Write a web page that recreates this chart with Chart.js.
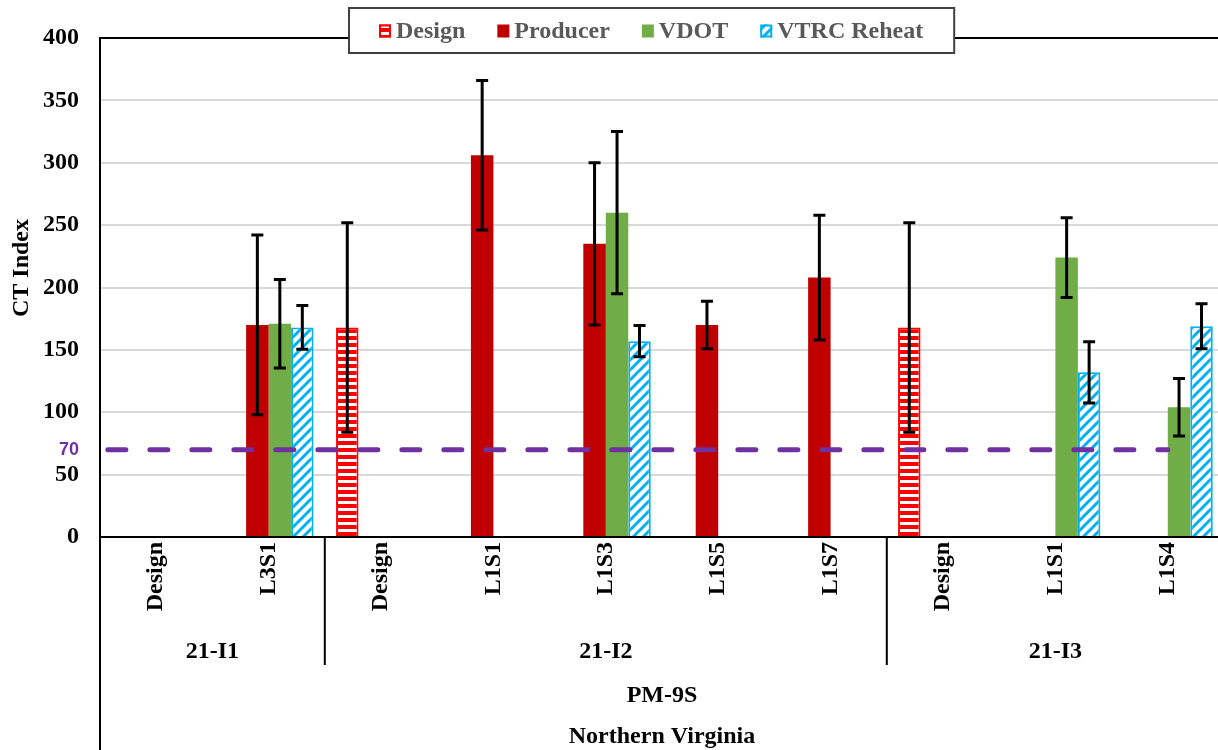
<!DOCTYPE html>
<html>
<head>
<meta charset="utf-8">
<title>CT Index</title>
<script src="https://cdn.jsdelivr.net/npm/chart.js@4.4.1/dist/chart.umd.min.js"></script>
<style>
  html, body { margin: 0; padding: 0; background: #fff; overflow: hidden; }
  #wrap { position: relative; width: 1230px; height: 750px; }
</style>
</head>
<body>
<div id="wrap"><canvas id="ctChart"></canvas></div>
<script>
// mix / sample labels along the axis
const labels = ["Design", "L3S1", "Design", "L1S1", "L1S3", "L1S5", "L1S7", "Design", "L1S1", "L1S4"];

// CT Index means and +/- error for each source
const design = [null, null, 168, null, null, null, null, 168, null, null];
const designErr = [null, null, 84, null, null, null, null, 84, null, null];
const producer = [null, 170, null, 306, 235, 170, 208, null, null, null];
const producerErr = [null, 72, null, 60, 65, 19, 50, null, null, null];
const vdot = [null, 171, null, null, 260, null, null, null, 224, 104];
const vdotErr = [null, 35.5, null, null, 65, null, null, null, 32, 23];
const vtrc = [null, 168, null, null, 157, null, null, null, 132, 169];
const vtrcErr = [null, 17.5, null, null, 12.5, null, null, null, 24.5, 18];

// second and third rows of the category axis
const groups = [
  { label: "21-I1", from: 0, to: 1 },
  { label: "21-I2", from: 2, to: 6 },
  { label: "21-I3", from: 7, to: 9 },
];
const outerRows = ["PM-9S", "Northern Virginia"];

const threshold = 70;
const yTicks = [0, 50, 100, 150, 200, 250, 300, 350, 400];

const SERIF = "'Liberation Serif', 'Times New Roman', serif";
const SANS = "'Liberation Sans', Arial, sans-serif";
const FS = 24;

function stripes() {
  const c = document.createElement("canvas");
  c.width = 8; c.height = 7;
  const g = c.getContext("2d");
  g.fillStyle = "#fff";
  g.fillRect(0, 0, 8, 7);
  g.fillStyle = "#ff0000";
  g.fillRect(0, 0, 8, 4);
  return g.createPattern(c, "repeat");
}

function diagonals() {
  const c = document.createElement("canvas");
  c.width = 10; c.height = 10;
  const g = c.getContext("2d");
  g.fillStyle = "#fff";
  g.fillRect(0, 0, 10, 10);
  g.strokeStyle = "#00b0f0";
  g.lineWidth = 3;
  g.beginPath();
  g.moveTo(-2, 12); g.lineTo(12, -2);
  g.moveTo(-2, 2); g.lineTo(2, -2);
  g.moveTo(8, 12); g.lineTo(12, 8);
  g.stroke();
  return g.createPattern(c, "repeat");
}

const errors = [designErr, producerErr, vdotErr, vtrcErr];

const overlays = {
  id: "overlays",
  afterDatasetsDraw(chart) {
    const { ctx, scales: { x, y } } = chart;
    ctx.save();
    // 70 limit line
    const ty = y.getPixelForValue(threshold);
    ctx.strokeStyle = "#7030a0";
    ctx.lineWidth = 5;
    ctx.lineCap = "round";
    ctx.setLineDash([18, 24]);
    ctx.beginPath();
    ctx.moveTo(x.getPixelForValue(-0.43), ty);
    ctx.lineTo(x.getPixelForValue(9), ty);
    ctx.stroke();
    ctx.setLineDash([]);
    ctx.lineCap = "butt";

    // error bars
    ctx.strokeStyle = "#000";
    ctx.lineWidth = 3;
    chart.data.datasets.forEach((ds, di) => {
      const meta = chart.getDatasetMeta(di);
      ds.data.forEach((v, i) => {
        const e = errors[di][i];
        if (v == null || e == null) return;
        const bx = meta.data[i].x;
        const top = y.getPixelForValue(v + e);
        const bot = y.getPixelForValue(v - e);
        ctx.beginPath();
        ctx.moveTo(bx, top); ctx.lineTo(bx, bot);
        ctx.moveTo(bx - 6, top); ctx.lineTo(bx + 6, top);
        ctx.moveTo(bx - 6, bot); ctx.lineTo(bx + 6, bot);
        ctx.stroke();
      });
    });
    ctx.restore();
  },
};

const axisRows = {
  id: "axisRows",
  afterDraw(chart) {
    const { ctx, chartArea: a, scales: { x } } = chart;
    ctx.save();
    ctx.strokeStyle = "#000";
    ctx.lineWidth = 2;
    ctx.beginPath();
    ctx.moveTo(a.left, a.bottom);
    ctx.lineTo(a.left, chart.height);
    groups.slice(1).forEach(g => {
      const px = x.getPixelForValue(g.from - 0.5);
      ctx.moveTo(px, a.bottom);
      ctx.lineTo(px, a.bottom + 128);
    });
    ctx.stroke();

    ctx.fillStyle = "#000";
    ctx.font = "bold " + FS + "px " + SERIF;
    ctx.textAlign = "center";
    ctx.textBaseline = "alphabetic";
    groups.forEach(g => {
      const cx = (x.getPixelForValue(g.from - 0.5) + x.getPixelForValue(g.to + 0.5)) / 2;
      ctx.fillText(g.label, cx, a.bottom + 121);
    });
    const mid = (a.left + a.right) / 2;
    ctx.fillText(outerRows[0], mid, a.bottom + 165);
    ctx.fillText(outerRows[1], mid, a.bottom + 206);

    // y axis title
    ctx.translate(22, 268);
    ctx.rotate(-Math.PI / 2);
    ctx.textBaseline = "middle";
    ctx.fillText("CT Index", 0, 0);
    ctx.restore();
  },
};

const boxedLegend = {
  id: "boxedLegend",
  afterDraw(chart) {
    const { ctx } = chart;
    const items = chart.data.datasets;
    ctx.save();
    ctx.font = "bold " + FS + "px " + SERIF;
    const sw = 12, gap = 5, itemGap = 32, padL = 30, padR = 31;
    const widths = items.map(d => ctx.measureText(d.label).width);
    const total = padL + padR + widths.reduce((s, w) => s + w + sw + gap, 0) + itemGap * (items.length - 1);
    const left = Math.round(652 - total / 2);
    const top = 8, h = 45, cy = top + h / 2;
    ctx.fillStyle = "#fff";
    ctx.fillRect(left, top, total, h);
    ctx.strokeStyle = "#404040";
    ctx.lineWidth = 2;
    ctx.strokeRect(left, top, total, h);

    let cx = left + padL;
    items.forEach((d, i) => {
      ctx.fillStyle = d.backgroundColor;
      ctx.fillRect(cx, cy - 6, sw, 13);
      if (d.borderWidth) {
        ctx.strokeStyle = d.borderColor;
        ctx.lineWidth = 2;
        ctx.strokeRect(cx + 1, cy - 5, sw - 2, 11);
      }
      ctx.fillStyle = "#595959";
      ctx.textAlign = "left";
      ctx.textBaseline = "middle";
      ctx.fillText(d.label, cx + sw + gap, cy + 1);
      cx += sw + gap + widths[i] + itemGap;
    });
    ctx.restore();
  },
};

new Chart(document.getElementById("ctChart"), {
  type: "bar",
  data: {
    labels: labels,
    datasets: [
      { label: "Design", data: design, backgroundColor: stripes(), borderColor: "#ff0000", borderWidth: 2 },
      { label: "Producer", data: producer, backgroundColor: "#c00000", borderWidth: 0 },
      { label: "VDOT", data: vdot, backgroundColor: "#70ad47", borderWidth: 0 },
      { label: "VTRC Reheat", data: vtrc, backgroundColor: diagonals(), borderColor: "#00b0f0", borderWidth: 2 },
    ],
  },
  options: {
    responsive: true,
    maintainAspectRatio: false,
    animation: false,
    layout: { padding: { top: 38, right: 6, left: 0, bottom: 0 } },
    datasets: { bar: { categoryPercentage: 0.8, barPercentage: 1.0 } },
    plugins: {
      legend: { display: false },
      tooltip: { enabled: false },
    },
    scales: {
      x: {
        afterFit: (s) => { s.height = 213; },
        grid: { display: false },
        border: { display: true, color: "#000", width: 2 },
        ticks: {
          autoSkip: false,
          minRotation: 90,
          maxRotation: 90,
          padding: -3,
          color: "#000",
          font: { family: SERIF, size: FS, weight: "bold" },
        },
      },
      y: {
        min: 0,
        max: 400,
        afterFit: (s) => { s.width = 100; },
        afterBuildTicks: (s) => {
          s.ticks = yTicks.concat([threshold]).sort((a, b) => a - b).map(v => ({ value: v }));
        },
        border: { color: "#000", width: 2 },
        grid: {
          drawTicks: false,
          lineWidth: 2,
          color: (c) => {
            const v = c.tick ? c.tick.value : null;
            if (v === 400) return "#000";
            if (v === 0 || v === threshold) return "rgba(0,0,0,0)";
            return "#d9d9d9";
          },
        },
        ticks: {
          autoSkip: false,
          padding: 21,
          color: (c) => (c.tick && c.tick.value === threshold ? "#7030a0" : "#000"),
          font: (c) => (c.tick && c.tick.value === threshold
            ? { family: SANS, size: 18, weight: "bold" }
            : { family: SERIF, size: FS, weight: "bold" }),
        },
      },
    },
  },
  plugins: [overlays, axisRows, boxedLegend],
});
</script>
</body>
</html>
